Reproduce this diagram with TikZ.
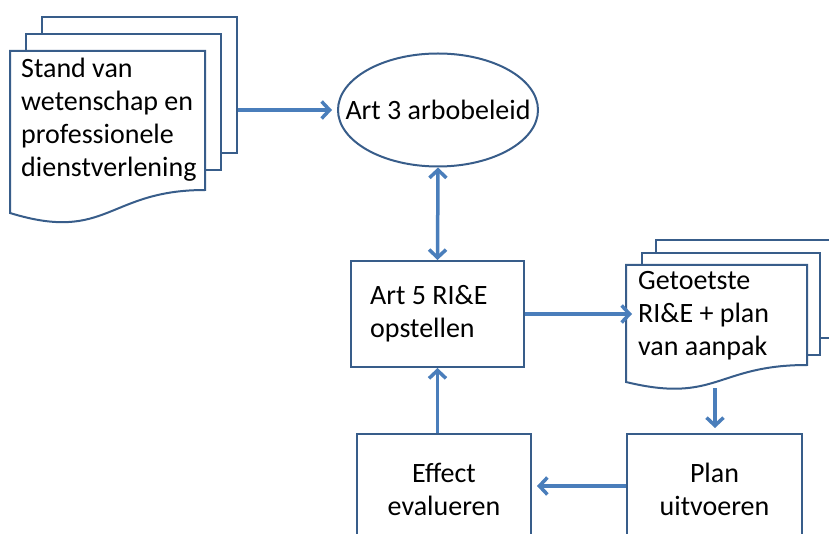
\documentclass[tikz,border=0pt]{standalone}
\usepackage{fontspec}
\setmainfont{Carlito}
\usepackage{tikz}
\usetikzlibrary{shapes.geometric,arrows.meta}

\definecolor{boxblue}{HTML}{385D8A}
\definecolor{arrowblue}{HTML}{4A7EBB}

\begin{document}
\begin{tikzpicture}[x=1pt, y=-1pt,
		font=\fontsize{28}{33}\selectfont,
		page/.style={draw=boxblue, line width=2pt, fill=white, inner sep=0pt},
		stepbox/.style={draw=boxblue, line width=2pt, fill=white, inner sep=0pt, minimum height=106pt},
		doctext/.style={anchor=west, align=left, inner sep=0pt},
		flow/.style={draw=arrowblue, line width=3.5pt, -{Straight Barb[length=8pt,width=17pt]}, shorten >=5pt}]
		\useasboundingbox (0,0) rectangle (829,534);

		% draw left document stack
		\node[page, minimum width=195pt, minimum height=136pt] (stand3) at (139.5,85) {};
		\node[page, minimum width=195pt, minimum height=136pt] (stand2) at (123.5,102) {};
		\draw[page] (10,51) -- (205,51) -- (205,190) .. controls (107.5,190) and (107.5,243) .. (10,213) -- cycle;
		\node[doctext] (stand) at (21,120) {Stand van\\wetenschap en\\professionele\\dienstverlening};

		% draw right document stack
		\node[page, minimum width=180pt, minimum height=98pt] (toets3) at (746,289) {};
		\node[page, minimum width=178pt, minimum height=102pt] (toets2) at (731,304) {};
		\draw[page] (626,265) -- (807,265) -- (807,365) .. controls (716.5,365) and (716.5,404) .. (626,382) -- cycle;
		\node[doctext] (toets) at (638,316) {Getoetste\\RI\&E + plan\\van aanpak};
		\coordinate (toets onder) at (715,388);

		% draw nodes
		\node[page, ellipse, minimum width=200pt, minimum height=113pt] (beleid) at (438,110) {};
		\node (beleid tekst) at (beleid) {Art 3 arbobeleid};
		\node[stepbox, minimum width=173pt] (opstellen) at (437.5,314) {};
		\node[doctext] (opstellen tekst) at ([xshift=20pt]opstellen.west) {Art 5 RI\&E\\opstellen};
		\node[stepbox, minimum width=174pt, align=center, minimum height=110pt] (effect) at (444,489) {Effect\\evalueren};
		\node[stepbox, minimum width=175pt, align=center, minimum height=110pt] (plan) at (714.5,489) {Plan\\uitvoeren};

		% draw arrows
		\draw[flow] (stand3.east |- beleid.west) -- (beleid.west);
		\draw[flow, {Straight Barb[length=8pt,width=17pt]}-{Straight Barb[length=8pt,width=17pt]}, shorten >=0pt] (beleid.south) -- (opstellen.north);
		\draw[flow, shorten >=9pt] (opstellen.east) -- (opstellen.east -| toets2.west);
		\draw[flow] (toets onder) -- (toets onder |- plan.north);
		\draw[flow] (plan.west |- 0,486) -- (effect.east |- 0,486);
		\draw[flow, shorten >=0pt] (opstellen.south |- effect.north) -- (opstellen.south);
	\end{tikzpicture}
\end{document}
